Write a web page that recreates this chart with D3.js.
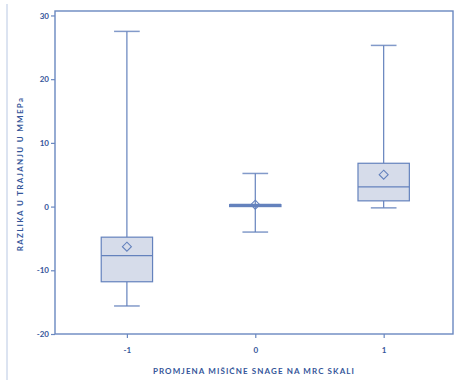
<!DOCTYPE html>
<html><head><meta charset="utf-8">
<script src="https://cdn.jsdelivr.net/npm/d3@7"></script>
<style>
body{margin:0;background:#fff;}
svg{display:block;}
</style></head>
<body>
<svg id="chart" width="458" height="383"></svg>
<script>
const categories = [-1, 0, 1];
const whiskerLow = [-15.6, -4.0, -0.2];
const q1 = [-11.8, 0.0, 0.9];
const median = [-7.7, 0.2, 3.1];
const q3 = [-4.8, 0.3, 6.8];
const whiskerHigh = [27.5, 5.2, 25.3];
const means = [-6.3, 0.3, 5.0];
const yTicks = [-20, -10, 0, 10, 20, 30];
const xTicks = [-1, 0, 1];
const xTitle = "PROMJENA MIŠIĆNE SNAGE NA MRC SKALI";
const yTitle = "RAZLIKA U TRAJANJU U MMEPa";

const svg = d3.select("#chart");
const mLeft = 55, mRight = 453, mTop = 11, mBottom = 334;
const x = d3.scaleLinear().domain([-1.56, 1.54]).range([mLeft, mRight]);
const y = d3.scaleLinear().domain([-20, 30.7]).range([mBottom, mTop]);

const lineC = "#6482bd", frameC = "#6a88c0", textC = "#34569a", fillC = "#d6dcea";
const fmt = d => String(d);

svg.append("line").attr("x1",7).attr("x2",7).attr("y1",4).attr("y2",380)
  .attr("stroke","#b9c8e3").attr("stroke-width",1);

svg.append("rect").attr("x",mLeft).attr("y",mTop).attr("width",mRight-mLeft).attr("height",mBottom-mTop)
  .attr("fill","none").attr("stroke",frameC).attr("stroke-width",1.4);

const yAxis = svg.append("g").attr("transform",`translate(${mLeft},0)`)
  .call(d3.axisLeft(y).tickValues(yTicks).tickFormat(fmt).tickSize(4).tickSizeOuter(0));
const xAxis = svg.append("g").attr("transform",`translate(0,${mBottom})`)
  .call(d3.axisBottom(x).tickValues(xTicks).tickFormat(fmt).tickSize(4).tickSizeOuter(0));
[yAxis, xAxis].forEach(a=>{
  a.select(".domain").remove();
  a.selectAll(".tick line").attr("stroke",frameC).attr("stroke-width",1.2);
  a.selectAll(".tick text").attr("fill",textC).attr("font-family","Lato, 'Open Sans', sans-serif")
    .attr("font-weight","bold").attr("font-size",8);
});
yAxis.selectAll(".tick text").attr("x",-6);
xAxis.selectAll(".tick text").attr("y",13);

const boxW = 0.4, capW = 0.2;
const g = svg.append("g");
categories.forEach((c,i)=>{
  g.append("line").attr("x1",x(c)).attr("x2",x(c)).attr("y1",y(whiskerHigh[i])).attr("y2",y(q3[i]))
    .attr("stroke",lineC).attr("stroke-width",1.2);
  g.append("line").attr("x1",x(c)).attr("x2",x(c)).attr("y1",y(q1[i])).attr("y2",y(whiskerLow[i]))
    .attr("stroke",lineC).attr("stroke-width",1.2);
  [whiskerHigh[i], whiskerLow[i]].forEach(v=>{
    g.append("line").attr("x1",x(c-capW/2)).attr("x2",x(c+capW/2)).attr("y1",y(v)).attr("y2",y(v))
      .attr("stroke",lineC).attr("stroke-width",1.5).attr("opacity",0.8);
  });
  g.append("rect").attr("x",x(c-boxW/2)).attr("width",x(c+boxW/2)-x(c-boxW/2))
    .attr("y",y(q3[i])).attr("height",Math.max(0.5,y(q1[i])-y(q3[i])))
    .attr("fill",fillC).attr("stroke",lineC).attr("stroke-width",1.2);
  const thin = (y(q1[i])-y(q3[i])) < 4;
  g.append("line").attr("x1",x(c-boxW/2)).attr("x2",x(c+boxW/2)).attr("y1",y(median[i])).attr("y2",y(median[i]))
    .attr("stroke",lineC).attr("stroke-width",thin?3:1.4);
  const mx = x(c), my = y(means[i]), s = 4.5;
  g.append("path").attr("d",`M${mx},${my-s}L${mx+s},${my}L${mx},${my+s}L${mx-s},${my}Z`)
    .attr("fill","none").attr("stroke",lineC).attr("stroke-width",1.1);
});

svg.append("text").attr("x",(mLeft+mRight)/2).attr("y",374).attr("text-anchor","middle")
  .attr("fill",textC).attr("font-family","Lato, 'Open Sans', sans-serif").attr("font-weight","bold")
  .attr("font-size",8).attr("letter-spacing",1.1).text(xTitle);
svg.append("text").attr("transform","translate(23,174) rotate(-90)").attr("text-anchor","middle")
  .attr("fill",textC).attr("font-family","Lato, 'Open Sans', sans-serif").attr("font-weight","bold")
  .attr("font-size",8).attr("letter-spacing",1.3).text(yTitle);
</script>
</body></html>
